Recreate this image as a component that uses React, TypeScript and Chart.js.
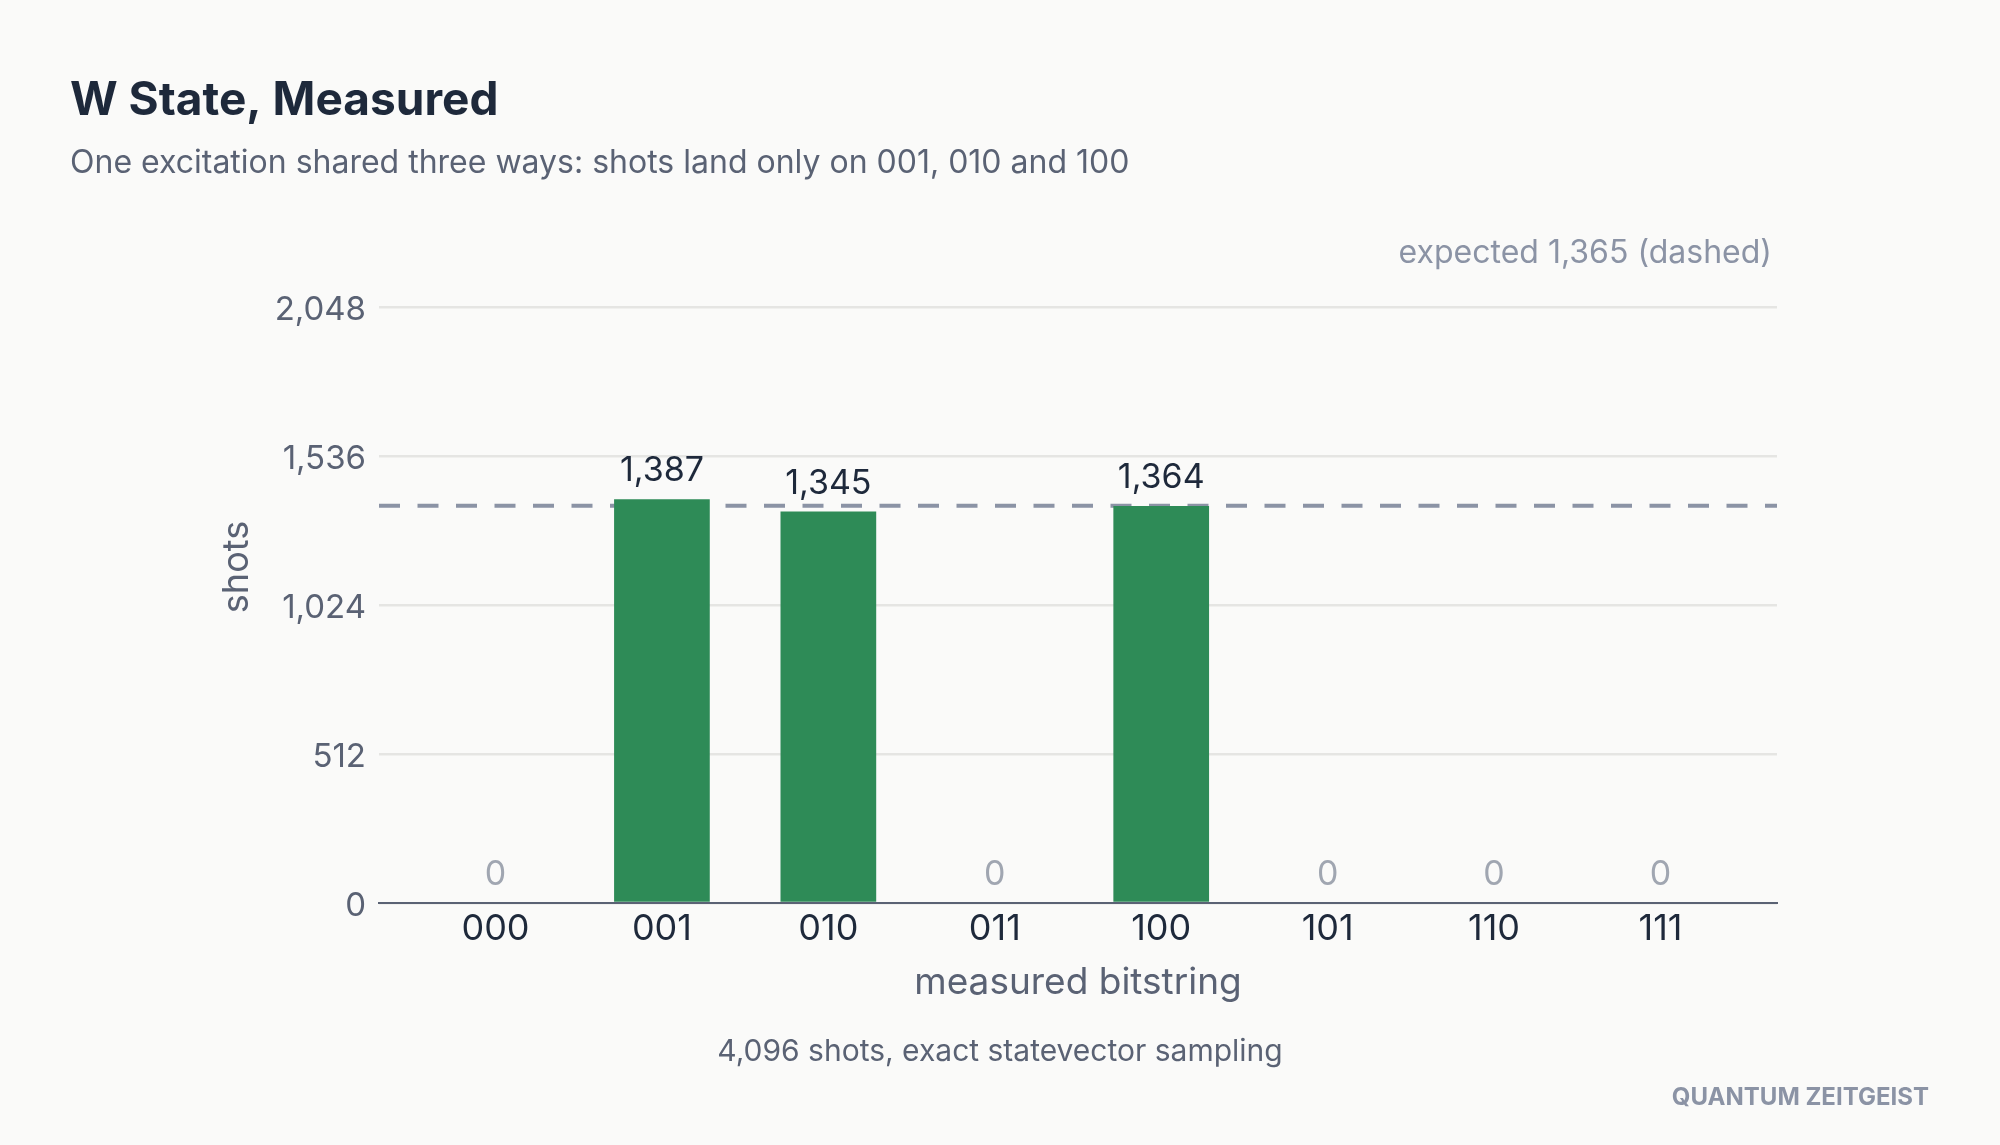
import React, { useEffect, useRef } from "react";
import { Chart, registerables } from "chart.js";

Chart.register(...registerables);

// Measurement outcomes of a 3-qubit W state
const BITSTRINGS = ["000", "001", "010", "011", "100", "101", "110", "111"];
const SHOTS = [0, 1387, 1345, 0, 1364, 0, 0, 0];
const EXPECTED_SHOTS = 1365;
const Y_TICKS = [0, 512, 1024, 1536, 2048];
const X_RANGE = [-0.7, 7.7];

const TITLE = "W State, Measured";
const SUBTITLE = "One excitation shared three ways: shots land only on 001, 010 and 100";
const EXPECTED_NOTE = "expected 1,365 (dashed)";
const Y_TITLE = "shots";
const X_TITLE = "measured bitstring";
const FOOTNOTE = "4,096 shots, exact statevector sampling";
const BRAND = "QUANTUM ZEITGEIST";

const W = 2000;
const H = 1145;
const FONT = "Inter, 'Noto Sans', sans-serif";
const BG = "#fafaf9";
const INK = "#1e293b";
const MUTED = "#5a6274";
const FAINT = "#8b93a5";
const ZERO_LABEL = "#a0a6b1";
const BAR = "#2e8b57";

const fmt = (v: number) => v.toLocaleString("en-US");

const background = {
  id: "background",
  beforeDraw(chart: any) {
    const { ctx } = chart;
    ctx.save();
    ctx.fillStyle = BG;
    ctx.fillRect(0, 0, chart.width, chart.height);
    ctx.restore();
  },
};

// Dashed reference line at the expected count, drawn beneath the bars
const expectedLine = {
  id: "expectedLine",
  beforeDatasetsDraw(chart: any) {
    const { ctx, chartArea, scales } = chart;
    const y = scales.y.getPixelForValue(EXPECTED_SHOTS);
    ctx.save();
    ctx.strokeStyle = FAINT;
    ctx.lineWidth = 4;
    ctx.setLineDash([21, 17.5]);
    ctx.beginPath();
    ctx.moveTo(chartArea.left, y);
    ctx.lineTo(chartArea.right, y);
    ctx.stroke();
    ctx.restore();
  },
};

// Count labels above each bar
const valueLabels = {
  id: "valueLabels",
  afterDatasetsDraw(chart: any) {
    const { ctx } = chart;
    const meta = chart.getDatasetMeta(0);
    ctx.save();
    ctx.font = `34px ${FONT}`;
    ctx.textAlign = "center";
    ctx.textBaseline = "alphabetic";
    meta.data.forEach((el: any, i: number) => {
      const v = SHOTS[i];
      ctx.fillStyle = v === 0 ? ZERO_LABEL : INK;
      ctx.fillText(fmt(v), el.x, el.y - 18);
    });
    ctx.restore();
  },
};

// Headings, notes and the rotated y-axis title
const annotations = {
  id: "annotations",
  afterDraw(chart: any) {
    const { ctx } = chart;
    ctx.save();
    ctx.textBaseline = "alphabetic";

    ctx.fillStyle = INK;
    ctx.textAlign = "left";
    ctx.font = `bold 46px ${FONT}`;
    ctx.fillText(TITLE, 70, 115);

    ctx.fillStyle = MUTED;
    ctx.font = `32px ${FONT}`;
    ctx.fillText(SUBTITLE, 70, 173);

    ctx.fillStyle = FAINT;
    ctx.textAlign = "right";
    ctx.font = `32px ${FONT}`;
    ctx.fillText(EXPECTED_NOTE, 1772, 263);

    ctx.fillStyle = MUTED;
    ctx.textAlign = "center";
    ctx.font = `30px ${FONT}`;
    ctx.fillText(FOOTNOTE, 1000, 1061);

    ctx.fillStyle = FAINT;
    ctx.textAlign = "right";
    ctx.font = `bold 24px ${FONT}`;
    ctx.fillText(BRAND, 1929, 1105);

    ctx.translate(237, 567);
    ctx.rotate(-Math.PI / 2);
    ctx.fillStyle = MUTED;
    ctx.textAlign = "center";
    ctx.textBaseline = "middle";
    ctx.font = `36px ${FONT}`;
    ctx.fillText(Y_TITLE, 0, 0);
    ctx.restore();
  },
};

export default function App() {
  const canvasRef = useRef<HTMLCanvasElement | null>(null);

  useEffect(() => {
    document.body.style.margin = "0";
    document.body.style.background = BG;
    const canvas = canvasRef.current;
    if (!canvas) return;

    const chart = new Chart(canvas, {
      type: "bar",
      data: {
        datasets: [
          {
            data: BITSTRINGS.map((_, i) => ({ x: i, y: SHOTS[i] })),
            backgroundColor: BAR,
            borderWidth: 0,
            categoryPercentage: 1,
            barPercentage: 0.575,
          },
        ],
      },
      options: {
        responsive: false,
        animation: false,
        devicePixelRatio: 1,
        layout: { padding: { left: 0, right: 223, top: 307, bottom: 122 } },
        plugins: {
          legend: { display: false },
          tooltip: { enabled: false },
          title: { display: false },
        },
        scales: {
          x: {
            type: "linear",
            min: X_RANGE[0],
            max: X_RANGE[1],
            offset: false,
            grid: { display: false, drawTicks: false, offset: false },
            border: { display: true, color: MUTED, width: 2 },
            ticks: {
              color: INK,
              font: { family: FONT, size: 36 },
              padding: 5,
              maxRotation: 0,
              autoSkip: false,
              callback: (v: any) => BITSTRINGS[Number(v)] ?? "",
            },
            afterBuildTicks(scale: any) {
              scale.ticks = BITSTRINGS.map((_, i) => ({ value: i }));
            },
            title: {
              display: true,
              text: X_TITLE,
              color: MUTED,
              font: { family: FONT, size: 37 },
              padding: { top: 0, bottom: 18 },
            },
            afterFit(scale: any) {
              scale.height = 120;
            },
          },
          y: {
            min: 0,
            max: 2048,
            grid: { color: "#e5e5e3", lineWidth: 2.5, drawTicks: false },
            border: { display: false },
            ticks: {
              color: MUTED,
              font: { family: FONT, size: 33 },
              padding: 13,
              labelOffset: 3,
              callback: (v: any) => fmt(Number(v)),
            },
            afterBuildTicks(scale: any) {
              scale.ticks = Y_TICKS.map((value) => ({ value }));
            },
            afterFit(scale: any) {
              scale.width = 379;
            },
          },
        },
      },
      plugins: [background, expectedLine, valueLabels, annotations],
    });

    return () => chart.destroy();
  }, []);

  return (
    <div style={{ width: W, height: H, background: BG }}>
      <canvas ref={canvasRef} width={W} height={H} style={{ display: "block" }} />
    </div>
  );
}
